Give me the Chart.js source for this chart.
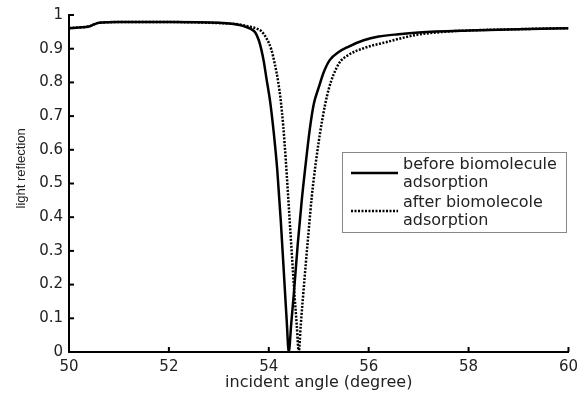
<!DOCTYPE html>
<html><head><meta charset="utf-8">
<script src="https://cdn.jsdelivr.net/npm/chart.js@4"></script>
<style>html,body{margin:0;padding:0;background:#fff}#wrap{width:584px;height:394px}</style>
</head><body><div id="wrap"><canvas id="c" width="584" height="394"></canvas></div>
<script>
const anglesBefore = [50.00,50.20,50.40,50.50,50.60,51.00,52.00,53.00,53.30,53.50,53.65,53.73,53.80,53.85,53.90,53.95,54.03,54.10,54.17,54.24,54.32,54.36,54.40,54.45,54.50,54.58,54.66,54.74,54.82,54.90,55.00,55.10,55.22,55.40,55.58,55.90,56.20,56.60,57.00,58.00,59.00,60.00];
const reflBefore = [0.961,0.963,0.966,0.972,0.977,0.979,0.979,0.977,0.973,0.967,0.958,0.948,0.925,0.898,0.862,0.815,0.740,0.650,0.540,0.390,0.190,0.090,0.000,0.085,0.170,0.320,0.450,0.560,0.660,0.735,0.785,0.830,0.866,0.890,0.905,0.925,0.936,0.943,0.948,0.954,0.958,0.961];
const anglesAfter = [50.00,50.20,50.40,50.50,50.60,51.00,52.00,53.00,53.40,53.60,53.75,53.85,53.95,54.05,54.12,54.19,54.24,54.29,54.34,54.38,54.44,54.52,54.56,54.60,54.64,54.68,54.74,54.80,54.86,54.94,55.06,55.20,55.40,55.58,55.91,56.31,56.96,57.50,58.00,59.00,60.00];
const reflAfter = [0.961,0.963,0.966,0.972,0.977,0.979,0.979,0.976,0.972,0.966,0.960,0.952,0.932,0.898,0.855,0.800,0.745,0.670,0.570,0.480,0.340,0.160,0.080,0.000,0.080,0.154,0.260,0.362,0.460,0.560,0.680,0.780,0.855,0.880,0.902,0.918,0.941,0.950,0.954,0.958,0.961];
const xTickValues = [50,52,54,56,58,60];
const yTickValues = [0,0.1,0.2,0.3,0.4,0.5,0.6,0.7,0.8,0.9,1];
const labelBefore = ['before biomolecule','adsorption'];
const labelAfter = ['after biomolecole','adsorption'];
const xTitle = 'incident angle (degree)';
const yTitle = 'light reflection';

const toPts = (xs, ys) => xs.map((x, i) => ({x: x, y: ys[i]}));
const TXT = '#222';

const inwardTicks = {
  id: 'inwardTicks',
  afterDraw(chart) {
    const ctx = chart.ctx, xs = chart.scales.x, ys = chart.scales.y, a = chart.chartArea;
    ctx.save();
    ctx.strokeStyle = '#000'; ctx.lineWidth = 2;
    xs.ticks.forEach(t => { const p = xs.getPixelForValue(t.value); ctx.beginPath(); ctx.moveTo(p, a.bottom); ctx.lineTo(p, a.bottom - 5); ctx.stroke(); });
    ys.ticks.forEach(t => { const p = ys.getPixelForValue(t.value); ctx.beginPath(); ctx.moveTo(a.left, p); ctx.lineTo(a.left + 5, p); ctx.stroke(); });
    // y axis title
    ctx.translate(21, ys.getPixelForValue(0.545));
    ctx.rotate(-Math.PI / 2);
    ctx.font = '13px "Liberation Sans"'; ctx.fillStyle = TXT;
    ctx.textAlign = 'center'; ctx.textBaseline = 'middle';
    ctx.fillText(yTitle, 0, 0);
    ctx.restore();
  }
};

const boxLegend = {
  id: 'boxLegend',
  afterDraw(chart) {
    const ctx = chart.ctx, a = chart.chartArea;
    const bx = a.left + 273, by = a.top + 137, bw = 224, bh = 80;
    ctx.save();
    ctx.fillStyle = '#fff'; ctx.fillRect(bx, by, bw, bh);
    ctx.strokeStyle = '#888'; ctx.lineWidth = 1;
    ctx.strokeRect(bx + 0.5, by + 0.5, bw, bh);
    ctx.font = '16px "DejaVu Sans"'; ctx.fillStyle = TXT; ctx.textBaseline = 'middle';
    const rows = [{ds: chart.data.datasets[0], cy: by + 21}, {ds: chart.data.datasets[1], cy: by + 59}];
    rows.forEach(r => {
      ctx.strokeStyle = '#000'; ctx.lineWidth = r.ds.borderWidth;
      ctx.setLineDash(r.ds.borderDash || []);
      ctx.beginPath(); ctx.moveTo(bx + 9, r.cy); ctx.lineTo(bx + 56, r.cy); ctx.stroke();
      ctx.setLineDash([]);
      r.ds.label.forEach((s, i) => ctx.fillText(s, bx + 61, r.cy - 8 + i * 17.5));
    });
    ctx.restore();
  }
};

new Chart(document.getElementById('c'), {
  type: 'line',
  data: {
    datasets: [
      {label: labelBefore, data: toPts(anglesBefore, reflBefore), borderColor: '#000', borderWidth: 2.5, pointRadius: 0, cubicInterpolationMode: 'monotone', fill: false},
      {label: labelAfter, data: toPts(anglesAfter, reflAfter), borderColor: '#000', borderWidth: 2.5, borderDash: [2, 1.5], pointRadius: 0, cubicInterpolationMode: 'monotone', fill: false}
    ]
  },
  options: {
    responsive: false, animation: false, devicePixelRatio: 1,
    layout: {padding: {top: 15, right: 11, left: 0, bottom: 0}},
    plugins: {legend: {display: false}, tooltip: {enabled: false}},
    scales: {
      x: {
        type: 'linear', min: 50, max: 60,
        afterBuildTicks: s => { s.ticks = xTickValues.map(v => ({value: v})); },
        afterFit: s => { s.height = 42; },
        ticks: {font: {family: 'DejaVu Sans', size: 15}, color: TXT, padding: 6, maxRotation: 0, autoSkip: false, callback: v => String(v)},
        grid: {drawOnChartArea: false, drawTicks: false},
        border: {display: true, color: '#000', width: 2},
        title: {display: true, text: xTitle, font: {family: 'DejaVu Sans', size: 16}, color: TXT, padding: {top: 0, bottom: 2}}
      },
      y: {
        type: 'linear', min: 0, max: 1,
        afterBuildTicks: s => { s.ticks = yTickValues.map(v => ({value: v})); },
        afterFit: s => { s.width = 69; },
        ticks: {font: {family: 'DejaVu Sans', size: 15}, color: TXT, padding: 6, autoSkip: false, callback: v => String(v)},
        grid: {drawOnChartArea: false, drawTicks: false},
        border: {display: true, color: '#000', width: 2},
        title: {display: false}
      }
    }
  },
  plugins: [inwardTicks, boxLegend]
});
</script>
</body></html>
